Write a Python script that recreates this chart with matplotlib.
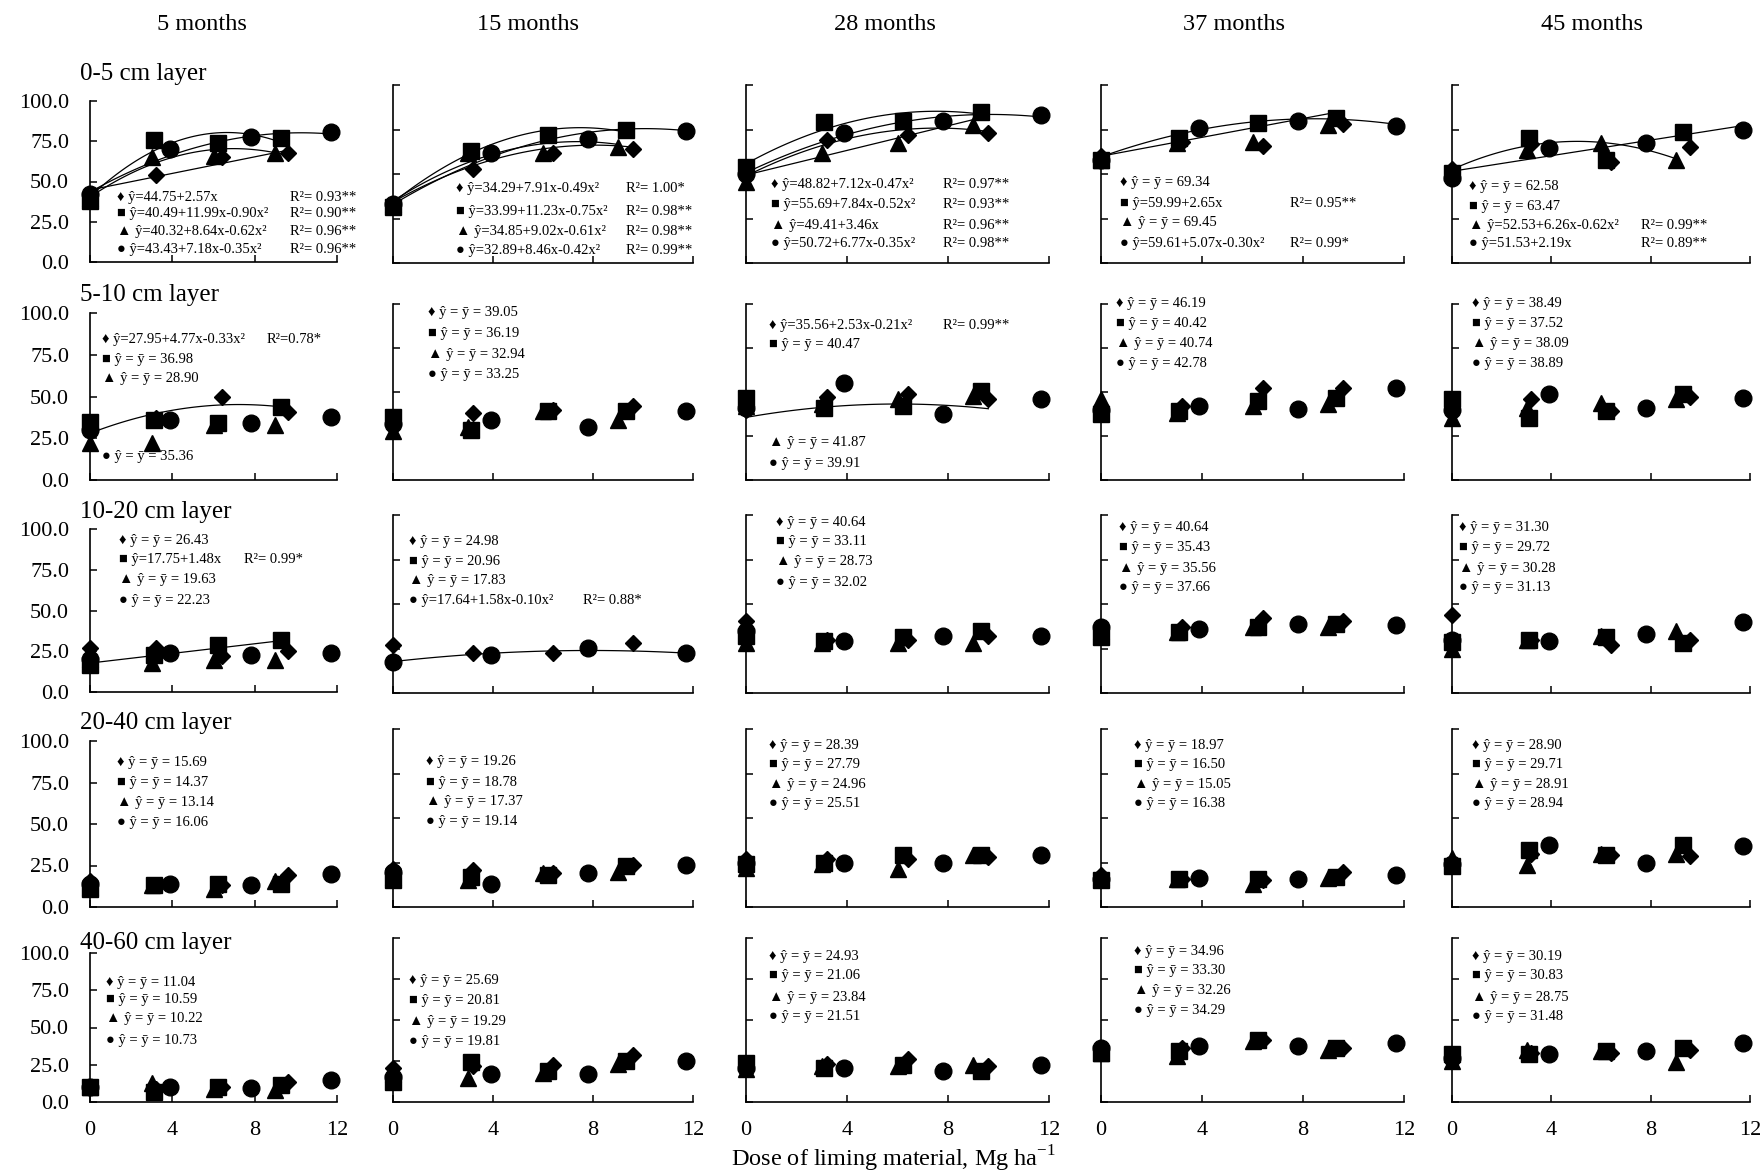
import numpy as np
import matplotlib
matplotlib.use('Agg')
import matplotlib.pyplot as plt

plt.rcParams['font.family'] = ['Liberation Serif', 'DejaVu Sans']
plt.rcParams['mathtext.fontset'] = 'custom'
plt.rcParams['mathtext.rm'] = 'Liberation Serif'

months = ['5 months', '15 months', '28 months', '37 months', '45 months']
layers = ['0-5 cm layer', '5-10 cm layer', '10-20 cm layer', '20-40 cm layer', '40-60 cm layer']

# doses of each liming material (Mg/ha)
dose_d = [0, 3.2, 6.4, 9.6]
dose_s = [0, 3.1, 6.2, 9.3]
dose_t = [0, 3.0, 6.0, 9.0]
dose_c = [0, 3.9, 7.8, 11.7]

nan = np.nan
# values[layer][month] -> 4 doses
diamond = [
    [[40, 54, 65, 68], [33, 53, 62, 64], [50, 69, 72, 73], [60, 68, 66, 78], [53, 67, 57, 65]],
    [[30, 37, 50, 41], [33, 38, 40, 42], [40, 47, 49, 46], [40, 42, 52, 52], [40, 46, 39, 47]],
    [[27, 27, 22, 25], [27, 22.5, 22.5, 28], [40.5, 30, 30, 32], [37, 37, 42, 40.5], [44, 30, 27, 30]],
    [[15.6, 13, 13, 19], [21.5, 21, 19, 23.4], [27, 27, 27, 28], [18, 16, 15, 19.6], [25, 30, 29, 28.5]],
    [[10, 9, 10, 13.4], [20.5, 22, 22.6, 28.8], [22, 23, 26, 22], [31, 33, 38, 33], [27, 30, 30, 31.5]],
]
square = [
    [[38, 76, 74, 77], [31.5, 63, 72, 74.7], [54, 79, 80, 85], [58, 70, 78.6, 81.5], [50.6, 70, 58, 73.6]],
    [[34.7, 36, 34, 43.7], [36, 28.5, 39, 39], [46.6, 41, 42, 50.6], [37.6, 39.3, 45, 46.6], [46, 35.4, 39.3, 49]],
    [[16.5, 22.7, 28.8, 32], [nan, nan, nan, nan], [32, 29, 31.6, 35], [31.6, 34, 37, 38.6], [28.5, 29.7, 31.6, 28]],
    [[11, 13, 14, 14], [15, 17, 18, 23], [24, 25, 29, 29], [15, 15.8, 15.8, 17], [22.8, 32, 29, 34.8]],
    [[10, 6.7, 10, 11.4], [12, 24.6, 19, 25], [24, 21, 22.6, 19], [30, 30.8, 37.7, 33], [29, 29, 30.8, 33]],
]
triangle = [
    [[40, 65, 66, 68], [33, 62, 62, 65], [45.5, 62, 67.4, 77.5], [58, 67.4, 68, 77.5], [52, 63.5, 67.4, 58]],
    [[22, 22, 33, 33], [28, 30, 39, 34], [42, 43, 46, 47.8], [46, 38, 42, 43], [35.4, 41, 44, 46]],
    [[20, 17.8, 19.6, 19.6], [nan, nan, nan, nan], [28, 28, 28, 28], [35, 34, 37, 37], [24.7, 30, 32, 35]],
    [[12, 13, 11, 15.6], [17, 15, 19, 19.6], [22, 24, 21.5, 29], [17, 16, 13, 16.5], [27.8, 23.4, 30, 30]],
    [[10, 12.6, 9, 8], [17, 14.4, 17.8, 23], [20, 22, 22, 22.6], [30, 28, 37, 32], [25, 32, 31, 24.6]],
]
circle = [
    [[42, 70, 77.6, 81], [33, 62, 69.6, 74], [50, 73, 80, 83], [58, 76, 80, 77], [48, 64.6, 67.4, 74.7]],
    [[30, 36, 34, 37.7], [32, 34, 30, 39], [41, 55, 37.6, 46], [40, 42, 40.4, 52], [40, 49, 41, 46.6]],
    [[20, 24, 22.7, 24], [17.4, 21.3, 25.3, 22.5], [35, 29, 32, 32], [37, 36, 38.6, 38], [30, 29, 33, 40]],
    [[14, 14, 13, 20], [19.6, 13, 19, 23.4], [25, 25, 24.7, 29], [16, 16.5, 15.8, 17.7], [24, 34.8, 25, 34]],
    [[10, 10, 9.4, 14.8], [15, 17, 17, 25], [20.5, 20.5, 19, 22.6], [33, 34, 34, 36], [27, 29, 30.8, 36]],
]

# fitted regressions: (layer, month, series, [a, b, c])  series 0=D 1=S 2=T 3=C
fits = [
    (0, 0, 0, [44.75, 2.57, 0]), (0, 0, 1, [40.49, 11.99, -0.90]),
    (0, 0, 2, [40.32, 8.64, -0.62]), (0, 0, 3, [43.43, 7.18, -0.35]),
    (0, 1, 0, [34.29, 7.91, -0.49]), (0, 1, 1, [33.99, 11.23, -0.75]),
    (0, 1, 2, [34.85, 9.02, -0.61]), (0, 1, 3, [32.89, 8.46, -0.42]),
    (0, 2, 0, [48.82, 7.12, -0.47]), (0, 2, 1, [55.69, 7.84, -0.52]),
    (0, 2, 2, [49.41, 3.46, 0]), (0, 2, 3, [50.72, 6.77, -0.35]),
    (0, 3, 1, [59.99, 2.65, 0]), (0, 3, 3, [59.61, 5.07, -0.30]),
    (0, 4, 2, [52.53, 6.26, -0.62]), (0, 4, 3, [51.53, 2.19, 0]),
    (1, 0, 0, [27.95, 4.77, -0.33]), (1, 2, 0, [35.56, 2.53, -0.21]),
    (2, 0, 1, [17.75, 1.48, 0]), (2, 1, 3, [17.64, 1.58, -0.10]),
]

# equation labels (None -> mean label)
eq_fit = {
    (0, 0): ['ŷ=44.75+2.57x', 'ŷ=40.49+11.99x-0.90x²', 'ŷ=40.32+8.64x-0.62x²', 'ŷ=43.43+7.18x-0.35x²'],
    (0, 1): ['ŷ=34.29+7.91x-0.49x²', 'ŷ=33.99+11.23x-0.75x²', 'ŷ=34.85+9.02x-0.61x²', 'ŷ=32.89+8.46x-0.42x²'],
    (0, 2): ['ŷ=48.82+7.12x-0.47x²', 'ŷ=55.69+7.84x-0.52x²', 'ŷ=49.41+3.46x', 'ŷ=50.72+6.77x-0.35x²'],
    (0, 3): [None, 'ŷ=59.99+2.65x', None, 'ŷ=59.61+5.07x-0.30x²'],
    (0, 4): [None, None, 'ŷ=52.53+6.26x-0.62x²', 'ŷ=51.53+2.19x'],
    (1, 0): ['ŷ=27.95+4.77x-0.33x²', None, None, None],
    (1, 2): ['ŷ=35.56+2.53x-0.21x²', None, None, None],
    (2, 0): [None, 'ŷ=17.75+1.48x', None, None],
    (2, 1): [None, None, None, 'ŷ=17.64+1.58x-0.10x²'],
}
r2_labels = {
    (0, 0): ['R²= 0.93**', 'R²= 0.90**', 'R²= 0.96**', 'R²= 0.96**'],
    (0, 1): ['R²= 1.00*', 'R²= 0.98**', 'R²= 0.98**', 'R²= 0.99**'],
    (0, 2): ['R²= 0.97**', 'R²= 0.93**', 'R²= 0.96**', 'R²= 0.98**'],
    (0, 3): ['', 'R²= 0.95**', '', 'R²= 0.99*'],
    (0, 4): ['', '', 'R²= 0.99**', 'R²= 0.89**'],
    (1, 0): ['R²=0.78*', '', '', ''],
    (1, 2): ['R²= 0.99**', '', '', ''],
    (2, 0): ['', 'R²= 0.99*', '', ''],
    (2, 1): ['', '', '', 'R²= 0.88*'],
}
means = [
    [[nan] * 4, [nan] * 4, [nan] * 4, [69.34, nan, 69.45, nan], [62.58, 63.47, nan, nan]],
    [[nan, 36.98, 28.90, 35.36], [39.05, 36.19, 32.94, 33.25], [nan, 40.47, 41.87, 39.91],
     [46.19, 40.42, 40.74, 42.78], [38.49, 37.52, 38.09, 38.89]],
    [[26.43, nan, 19.63, 22.23], [24.98, 20.96, 17.83, nan], [40.64, 33.11, 28.73, 32.02],
     [40.64, 35.43, 35.56, 37.66], [31.30, 29.72, 30.28, 31.13]],
    [[15.69, 14.37, 13.14, 16.06], [19.26, 18.78, 17.37, 19.14], [28.39, 27.79, 24.96, 25.51],
     [18.97, 16.50, 15.05, 16.38], [28.90, 29.71, 28.91, 28.94]],
    [[11.04, 10.59, 10.22, 10.73], [25.69, 20.81, 19.29, 19.81], [24.93, 21.06, 23.84, 21.51],
     [34.96, 33.30, 32.26, 34.29], [30.19, 30.83, 28.75, 31.48]],
]

# label placement: x of the block, y of each line, x of R² column (data units)
label_x = [[1.3, 2.5, 1.0, 0.75, 0.7],
           [0.6, 1.4, 0.9, 0.6, 0.8],
           [1.4, 0.65, 1.2, 0.7, 0.3],
           [1.3, 1.3, 0.9, 1.3, 0.8],
           [0.8, 0.65, 0.9, 1.3, 0.8]]
label_y = [[[40, 30, 19, 7.5], [42, 29, 17.5, 7], [44, 32.6, 21, 11], [45, 33.7, 22.5, 11], [42.7, 31.5, 21, 11]],
           [[84, 72, 61, 14], [95, 83, 71.5, 60], [88, 77, 21.3, 9.5], [100, 89, 77.5, 66], [100, 89, 77.5, 66]],
           [[93, 81, 69, 56], [85, 73.6, 63, 52], [96, 85, 74, 62], [93, 81.5, 70, 59], [93, 81.5, 70, 59]],
           [[87, 75, 63, 51], [81.5, 70, 59, 48], [91, 80, 69, 58], [91, 80, 69, 58], [91, 80, 69, 58]],
           [[80.5, 68.5, 56, 41.6], [73.8, 61.6, 49, 36.6], [89, 77, 64, 52], [92, 80, 68, 55.5], [89, 77, 64, 52]]]
r2_x = {(0, 0): 9.7, (0, 1): 9.3, (0, 2): 7.8, (0, 3): 7.5, (0, 4): 7.6,
        (1, 0): 8.6, (1, 2): 7.8, (2, 0): 7.5, (2, 1): 7.6}

glyphs = ['♦', '■', '▲', '●']
markers = ['D', 's', '^', 'o']
msizes = [8.5, 11.5, 12, 12]
doses = [dose_d, dose_s, dose_t, dose_c]
series = [diamond, square, triangle, circle]

# axes boxes in pixels
col_x = [(90, 337), (393, 693), (746, 1049), (1101, 1404), (1452, 1750)]
row_y1 = [(101, 262), (313, 480), (529, 692), (741, 907), (953, 1102)]
row_y = [(85, 263), (304, 480), (515, 693), (729, 907), (938, 1102)]
W, H = 1764, 1172

fig = plt.figure(figsize=(W / 100, H / 100), dpi=100)

for i in range(5):
    for j in range(5):
        x0, x1 = col_x[j]
        y0, y1 = row_y1[i] if j == 0 else row_y[i]
        ax = fig.add_axes([x0 / W, 1 - y1 / H, (x1 - x0) / W, (y1 - y0) / H])
        ax.set_xlim(0, 12)
        ax.set_ylim(0, 100)
        ax.spines['top'].set_visible(False)
        ax.spines['right'].set_visible(False)
        for s in ['left', 'bottom']:
            ax.spines[s].set_linewidth(1.2)
        ax.set_xticks([0, 4, 8, 12])
        ax.set_yticks([0, 25, 50, 75, 100])
        ax.tick_params(direction='in', length=5, width=1.1)
        ax.tick_params(axis='y', labelsize=16, pad=15)
        ax.tick_params(axis='x', labelsize=16, pad=14)
        if j == 0:
            ax.set_yticklabels(['%.1f' % v for v in [0, 25, 50, 75, 100]])
        else:
            ax.set_yticklabels([])
        if i < 4:
            ax.set_xticklabels([])

        # fit curves
        for (li, mj, k, coef) in fits:
            if li == i and mj == j:
                xx = np.linspace(0, max(doses[k]), 60)
                yy = coef[0] + coef[1] * xx + coef[2] * xx ** 2
                ax.plot(xx, yy, color='black', lw=0.9, zorder=2)

        # points
        for k in range(4):
            ax.plot(doses[k], series[k][i][j], linestyle='none', marker=markers[k],
                    ms=msizes[k], color='black', zorder=3, clip_on=False)

        # equation labels
        fitted = eq_fit.get((i, j), [None] * 4)
        r2 = r2_labels.get((i, j), [''] * 4)
        for k in range(4):
            if fitted[k] is not None:
                txt = fitted[k]
            elif not np.isnan(means[i][j][k]):
                txt = 'ŷ = ȳ = %.2f' % means[i][j][k]
            else:
                continue
            ax.text(label_x[i][j], label_y[i][j][k], glyphs[k] + ' ' + txt,
                    fontsize=10.5, va='center', ha='left', zorder=4)
            if r2[k]:
                ax.text(r2_x[(i, j)], label_y[i][j][k], r2[k],
                        fontsize=10.5, va='center', ha='left', zorder=4)

# column titles
title_x = [202, 528, 885, 1234, 1592]
for j in range(5):
    fig.text(title_x[j] / W, 1 - 25 / H, months[j], fontsize=17.5, ha='center', va='center')

# layer labels
layer_y = [74, 295, 512, 723, 943]
for i in range(5):
    fig.text(80 / W, 1 - layer_y[i] / H, layers[i], fontsize=18, ha='left', va='center')

fig.text(894 / W, 1 - 1159 / H, 'Dose of liming material, Mg ha$^{-1}$',
         fontsize=17.5, ha='center', va='center')

fig.savefig('out.png', dpi=100)
